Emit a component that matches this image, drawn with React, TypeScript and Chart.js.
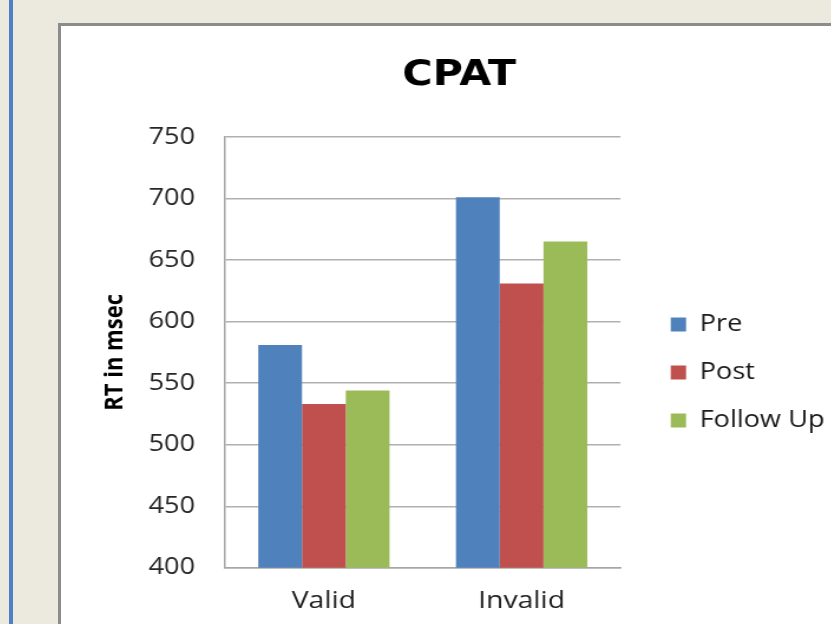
import React, { useEffect, useRef } from 'react';
import { Chart, registerables } from 'chart.js';

Chart.register(...registerables);

const categories = ['Valid', 'Invalid'];
const seriesNames = ['Pre', 'Post', 'Follow Up'];
const preValues = [581, 701];
const postValues = [533, 631];
const followUpValues = [544, 665];
const seriesColors = ['#4F81BD', '#C0504D', '#9BBB59'];
const yMin = 400;
const yMax = 750;
const yStep = 50;
const chartTitle = 'CPAT';
const yAxisTitle = 'RT in msec';

const STRETCH = 1.18;
const CANVAS_W = 675;
const CANVAS_H = 590;

export default function App() {
  const ref = useRef<HTMLCanvasElement | null>(null);

  useEffect(() => {
    if (!ref.current) return;
    const values = [preValues, postValues, followUpValues];
    const chart = new Chart(ref.current, {
      type: 'bar',
      data: {
        labels: categories,
        datasets: seriesNames.map((name, i) => ({
          label: name,
          data: values[i],
          backgroundColor: seriesColors[i],
          borderWidth: 0,
          barPercentage: 1,
          categoryPercentage: 0.664,
        })),
      },
      options: {
        animation: false,
        responsive: false,
        devicePixelRatio: 1,
        layout: { padding: 0 },
        plugins: {
          title: {
            display: true,
            text: chartTitle,
            color: '#000',
            font: { family: 'DejaVu Sans', weight: 'bold', size: 35 },
            padding: { top: 28.5, bottom: 40.5 },
          },
          legend: {
            display: true,
            position: 'right',
            fullSize: false,
            align: 'center',
            maxWidth: 200,
            title: {
              display: true,
              text: ' ',
              font: { size: 1 },
              padding: 19.5,
            },
            labels: {
              boxWidth: 13,
              boxHeight: 14,
              padding: 25,
              color: '#1a1a1a',
              font: { family: 'Open Sans', size: 23 },
            },
          },
          tooltip: { enabled: false },
        },
        scales: {
          x: {
            grid: { display: false, drawTicks: false },
            border: { display: true, color: '#a6a6a6', width: 1.5 },
            ticks: {
              color: '#1f1f1f',
              padding: 19.4,
              font: { family: 'Open Sans', size: 24 },
            },
            afterFit: (s: any) => {
              s.height = 48.2;
            },
          },
          y: {
            min: yMin,
            max: yMax,
            grid: { color: '#b0b0b0', lineWidth: 1.5, drawTicks: false },
            border: { display: true, color: '#a6a6a6', width: 1.5 },
            ticks: {
              stepSize: yStep,
              color: '#262626',
              padding: 25.4,
              font: { family: 'Open Sans', size: 23 },
            },
            title: {
              display: true,
              text: yAxisTitle,
              color: '#000',
              font: { family: 'Open Sans', weight: 'bold', size: 22 },
              padding: { top: 33, bottom: 0 },
            },
            afterFit: (s: any) => {
              s.width = 139;
            },
          },
          gapA: {
            type: 'linear',
            position: 'right',
            display: true,
            grid: { display: false, drawTicks: false },
            border: { display: false },
            ticks: { display: false },
            afterFit: (s: any) => {
              s.width = 17.6;
            },
          },
          gapB: {
            type: 'linear',
            position: 'right',
            weight: 2000,
            display: true,
            grid: { display: false, drawTicks: false },
            border: { display: false },
            ticks: { display: false },
            afterFit: (s: any) => {
              s.width = 18;
            },
          },
        },
      } as any,
    });
    return () => chart.destroy();
  }, []);

  return (
    <div
      style={{
        position: 'fixed',
        left: 0,
        top: 0,
        right: 0,
        bottom: 0,
        background: '#ECE9DF',
        overflow: 'hidden',
      }}
    >
      <div
        style={{
          position: 'absolute',
          left: 9,
          top: 0,
          bottom: 0,
          width: 4,
          background: '#4F7FC4',
        }}
      />
      <div
        style={{
          position: 'absolute',
          left: 58,
          top: 23,
          width: 900,
          height: 800,
          border: '3px solid #8c8c8c',
          background: '#fff',
        }}
      />
      <canvas
        ref={ref}
        width={CANVAS_W}
        height={CANVAS_H}
        style={{
          position: 'absolute',
          left: 61,
          top: 26,
          width: CANVAS_W,
          height: CANVAS_H,
          transform: `scaleX(${STRETCH})`,
          transformOrigin: '0 0',
        }}
      />
    </div>
  );
}
